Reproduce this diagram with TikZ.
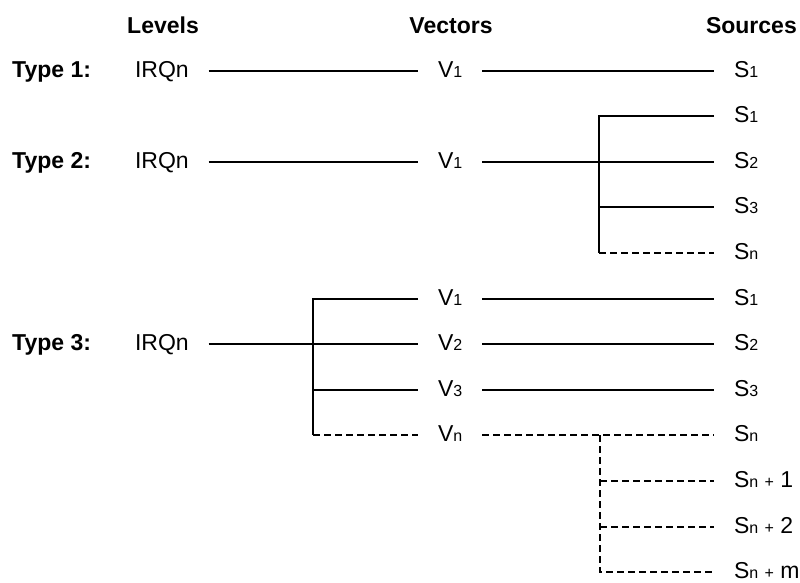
\documentclass[tikz,border=0pt]{standalone}
\usepackage{fontspec}
\setmainfont{Liberation Sans}
\usepackage{tikz}
\usetikzlibrary{positioning}
\newcommand{\idx}[1]{{\fontsize{16}{18}\selectfont #1}}

\begin{document}
\begin{tikzpicture}[x=1pt, y=-1pt,
    every node/.style={font=\fontsize{23}{26}\selectfont, inner sep=0pt},
    lbl/.style={anchor=west, outer xsep=20pt, text height=14.5pt, text depth=2pt},
    typ/.style={anchor=west, font=\fontsize{23}{26}\selectfont\bfseries, text height=14.5pt, text depth=2pt},
    hdr/.style={font=\fontsize{23}{26}\selectfont\bfseries, text height=16.5pt, text depth=0pt},
    wire/.style={line width=2pt},
    dwire/.style={line width=2.6pt, dash pattern=on 7pt off 4pt}]
    \useasboundingbox (0,0) rectangle (800,583);
    % column heads
    \node[hdr](hlev)at(163,25){Levels};
    \node[hdr](hvec)at(451,25){Vectors};
    \node[hdr,anchor=east](hsrc)at(797,25){Sources};
    % type 1
    \node[typ](t1)at(12,71){Type 1:};
    \node[lbl](t1irq)at(115,71){IRQn};
    \node[lbl](t1v)at(418,71){V\idx{1}};
    \node[lbl](t1s)at(714,71){S\idx{1}};
    \draw[wire](t1irq.east)--(t1v.west);
    \draw[wire](t1v.east)--(t1s.west);
    % type 2
    \node[typ](t2)at(12,162){Type 2:};
    \node[lbl](t2irq)at(115,162){IRQn};
    \node[lbl](t2v)at(418,162){V\idx{1}};
    \node[lbl](t2s1)at(714,116){S\idx{1}};
    \node[lbl](t2s2)at(714,162){S\idx{2}};
    \node[lbl](t2s3)at(714,207){S\idx{3}};
    \node[lbl](t2sn)at(714,253){S\idx{n}};
    \coordinate(b2t)at(599,116);
    \coordinate(b2b)at(599,253);
    \draw[wire](t2irq.east)--(t2v.west);
    \draw[wire](t2v.east)--(t2s2.west);
    \draw[wire](t2s1.west)--(b2t)--(b2b);
    \draw[wire](b2t|-t2s3)--(t2s3.west);
    \draw[dwire](b2b)--(t2sn.west);
    % type 3
    \node[typ](t3)at(12,344){Type 3:};
    \node[lbl](t3irq)at(115,344){IRQn};
    \node[lbl](t3v1)at(418,299){V\idx{1}};
    \node[lbl](t3v2)at(418,344){V\idx{2}};
    \node[lbl](t3v3)at(418,390){V\idx{3}};
    \node[lbl](t3vn)at(418,435){V\idx{n}};
    \node[lbl](t3s1)at(714,299){S\idx{1}};
    \node[lbl](t3s2)at(714,344){S\idx{2}};
    \node[lbl](t3s3)at(714,390){S\idx{3}};
    \node[lbl](t3sn)at(714,435){S\idx{n}};
    \node[lbl](t3sa)at(714,481){S\idx{n}\ \idx{+}\ 1};
    \node[lbl](t3sb)at(714,527){S\idx{n}\ \idx{+}\ 2};
    \node[lbl](t3sm)at(714,572){S\idx{n}\ \idx{+}\ m};
    \coordinate(b3t)at(313,299);
    \coordinate(b3b)at(313,435);
    \coordinate(b4t)at(600,435);
    \coordinate(b4b)at(600,572);
    \draw[wire](t3irq.east)--(t3v2.west);
    \draw[wire](t3v1.west)--(b3t)--(b3b);
    \draw[wire](b3t|-t3v3)--(t3v3.west);
    \draw[dwire](b3b)--(t3vn.west);
    \draw[wire](t3v1.east)--(t3s1.west);
    \draw[wire](t3v2.east)--(t3s2.west);
    \draw[wire](t3v3.east)--(t3s3.west);
    \draw[dwire](t3vn.east)--(t3sn.west);
    \draw[dwire](b4t)--(b4b)--(t3sm.west);
    \draw[dwire](b4t|-t3sa)--(t3sa.west);
    \draw[dwire](b4t|-t3sb)--(t3sb.west);
\end{tikzpicture}
\end{document}
